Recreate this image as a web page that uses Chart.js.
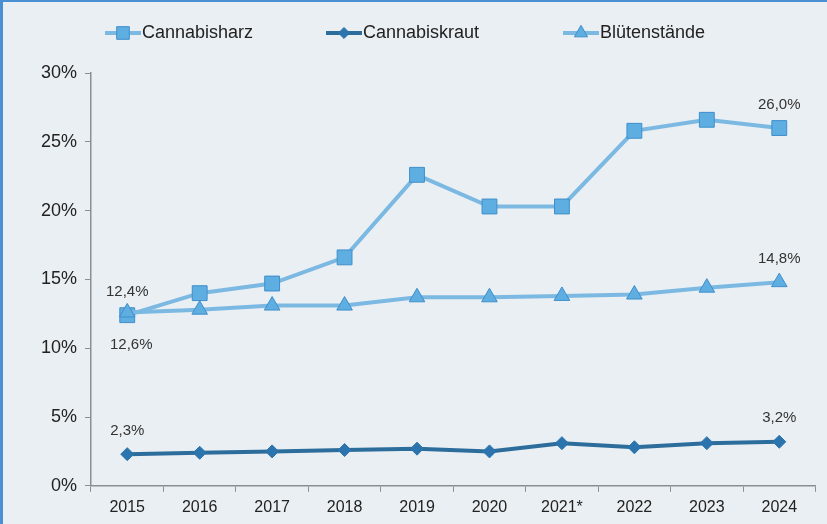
<!DOCTYPE html>
<html>
<head>
<meta charset="utf-8">
<script src="https://cdn.jsdelivr.net/npm/chart.js@4"></script>
<style>
  html, body { margin: 0; padding: 0; background: #eaeff3; }
  #wrap { width: 827px; height: 524px; position: relative; }
</style>
</head>
<body>
<div id="wrap"><canvas id="chart" width="827" height="524"></canvas></div>
<script>
// Data
const years = ['2015', '2016', '2017', '2018', '2019', '2020', '2021*', '2022', '2023', '2024'];
const harz = [12.4, 14.0, 14.7, 16.6, 22.6, 20.3, 20.3, 25.8, 26.6, 26.0];
const kraut = [2.3, 2.4, 2.5, 2.6, 2.7, 2.5, 3.1, 2.8, 3.1, 3.2];
const blueten = [12.6, 12.8, 13.1, 13.1, 13.7, 13.7, 13.8, 13.9, 14.4, 14.8];
const yTicks = [0, 5, 10, 15, 20, 25, 30];

// which points carry a value label
const labelledPoints = [
    { dataset: 0, index: 0, below: false },
    { dataset: 2, index: 0, below: true },
    { dataset: 0, index: 9, below: false },
    { dataset: 2, index: 9, below: false },
    { dataset: 1, index: 0, below: false },
    { dataset: 1, index: 9, below: false }
];

const lightLine = '#7cb9e2';
const lightFill = '#5eaee2';
const lightBorder = '#3f8ecb';
const darkLine = '#2c6d9c';
const darkFill = '#2b74ad';

const FONT = "'Liberation Sans', Arial, sans-serif";

function fmt(v) {
    return v.toFixed(1).replace('.', ',') + '%';
}

// background + blue frame
const framePlugin = {
    id: 'frame',
    beforeDraw(chart) {
        const ctx = chart.ctx;
        ctx.save();
        ctx.fillStyle = '#eaeff3';
        ctx.fillRect(0, 0, chart.width, chart.height);
        ctx.fillStyle = '#4a8fd2';
        ctx.fillRect(0, 0, 3, chart.height);
        ctx.fillRect(0, 0, chart.width, 2);
        ctx.restore();
    }
};

// value labels
const valueLabelPlugin = {
    id: 'valueLabels',
    afterDatasetsDraw(chart) {
        const ctx = chart.ctx;
        ctx.save();
        ctx.font = '15px ' + FONT;
        ctx.fillStyle = '#333333';
        ctx.textAlign = 'center';
        labelledPoints.forEach(p => {
            const el = chart.getDatasetMeta(p.dataset).data[p.index];
            const v = chart.data.datasets[p.dataset].data[p.index];
            if (p.below) {
                ctx.textBaseline = 'top';
                ctx.fillText(fmt(v), el.x + 4, el.y + 25);
            } else {
                ctx.textBaseline = 'bottom';
                ctx.fillText(fmt(v), el.x, el.y - 16);
            }
        });
        ctx.restore();
    }
};

// legend with line + marker
const legendPlugin = {
    id: 'lineLegend',
    afterDraw(chart) {
        const ctx = chart.ctx;
        const starts = [105, 326, 563];
        ctx.save();
        ctx.font = '18px ' + FONT;
        ctx.textBaseline = 'middle';
        ctx.textAlign = 'left';
        chart.data.datasets.forEach((ds, i) => {
            const x = starts[i];
            const y = 33;
            ctx.strokeStyle = ds.borderColor;
            ctx.lineWidth = 4;
            ctx.beginPath();
            ctx.moveTo(x, y);
            ctx.lineTo(x + 36, y);
            ctx.stroke();
            ctx.fillStyle = ds.pointBackgroundColor;
            ctx.strokeStyle = ds.pointBorderColor;
            ctx.lineWidth = 1;
            Chart.helpers.drawPoint(ctx, {
                pointStyle: ds.pointStyle,
                radius: ds.pointRadius * 0.85,
                borderWidth: 1,
                rotation: 0
            }, x + 18, y);
            ctx.fillStyle = '#222222';
            ctx.fillText(ds.label, x + 37, y);
        });
        ctx.restore();
    }
};

new Chart(document.getElementById('chart'), {
    type: 'line',
    data: {
        labels: years,
        datasets: [
            {
                label: 'Cannabisharz',
                data: harz,
                order: 2,
                borderColor: lightLine,
                borderWidth: 4,
                pointStyle: 'rect',
                pointRadius: 10.5,
                pointBackgroundColor: lightFill,
                pointBorderColor: lightBorder,
                pointBorderWidth: 1
            },
            {
                label: 'Cannabiskraut',
                data: kraut,
                order: 1,
                borderColor: darkLine,
                borderWidth: 4,
                pointStyle: 'rectRot',
                pointRadius: 6.5,
                pointBackgroundColor: darkFill,
                pointBorderColor: darkFill,
                pointBorderWidth: 1
            },
            {
                label: 'Blütenstände',
                data: blueten,
                order: 0,
                borderColor: lightLine,
                borderWidth: 4,
                pointStyle: 'triangle',
                pointRadius: 9,
                pointBackgroundColor: lightFill,
                pointBorderColor: lightBorder,
                pointBorderWidth: 1
            }
        ]
    },
    options: {
        responsive: false,
        animation: false,
        layout: {
            padding: { top: 73, right: 10, left: 0, bottom: 1 }
        },
        plugins: {
            legend: { display: false },
            tooltip: { enabled: false }
        },
        scales: {
            x: {
                offset: true,
                grid: {
                    display: true,
                    offset: true,
                    drawOnChartArea: false,
                    drawTicks: true,
                    tickLength: 6,
                    color: '#8a8f94',
                    lineWidth: 1
                },
                border: { display: true, color: '#8a8f94', width: 1.5 },
                ticks: {
                    color: '#222222',
                    font: { family: FONT, size: 16 },
                    padding: 6,
                    maxRotation: 0
                }
            },
            y: {
                min: 0,
                max: 30,
                afterBuildTicks(scale) {
                    scale.ticks = yTicks.map(v => ({ value: v }));
                },
                afterFit(scale) {
                    scale.width = 91;
                },
                grid: {
                    display: true,
                    drawOnChartArea: false,
                    drawTicks: true,
                    tickLength: 6,
                    color: '#8a8f94'
                },
                border: { display: true, color: '#8a8f94', width: 1.5 },
                ticks: {
                    color: '#222222',
                    font: { family: FONT, size: 18 },
                    padding: 8,
                    callback: v => v + '%'
                }
            }
        }
    },
    plugins: [framePlugin, valueLabelPlugin, legendPlugin]
});
</script>
</body>
</html>
